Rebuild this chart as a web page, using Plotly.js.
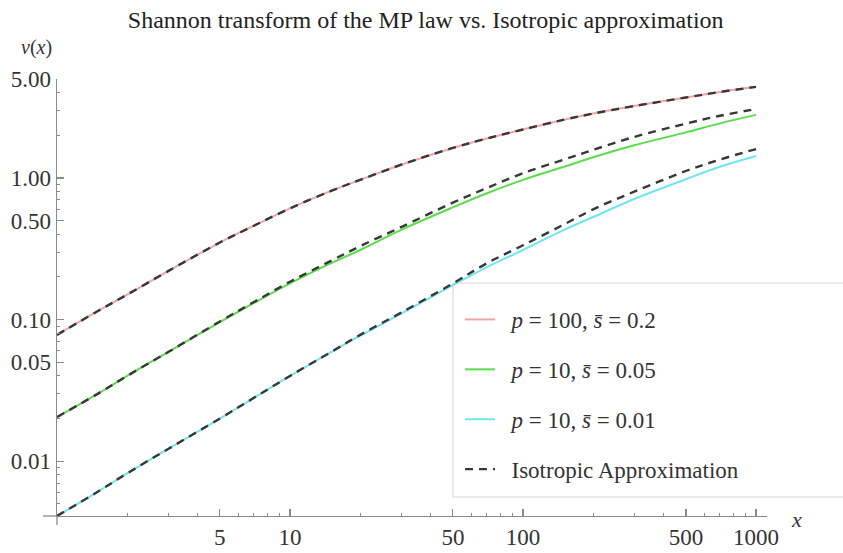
<!DOCTYPE html>
<html><head><meta charset="utf-8">
<script src="https://cdn.plot.ly/plotly-3.0.1.min.js"></script>
<style>html,body{margin:0;padding:0;background:#fff}</style>
</head><body><div id="chart" style="width:843px;height:553px"></div>
<script>
const xValues = [1,1.5,2,3,5,7,10,15,20,30,50,70,100,150,200,300,500,700,1000];
const redMP   = [0.078,0.115,0.15,0.22,0.35,0.46,0.61,0.81,0.97,1.24,1.63,1.9,2.2,2.58,2.85,3.22,3.7,4.05,4.4];
const redIso  = [0.078,0.115,0.15,0.22,0.35,0.46,0.61,0.81,0.97,1.24,1.63,1.9,2.2,2.58,2.85,3.22,3.7,4.05,4.4];
const greenMP = [0.0205,0.030,0.040,0.059,0.096,0.131,0.18,0.25,0.31,0.43,0.62,0.78,0.97,1.2,1.4,1.7,2.1,2.43,2.79];
const greenIso= [0.0205,0.030,0.040,0.059,0.097,0.133,0.185,0.26,0.33,0.45,0.67,0.85,1.08,1.35,1.58,1.95,2.42,2.75,3.07];
const cyanMP  = [0.0041,0.0061,0.0082,0.0122,0.020,0.028,0.040,0.059,0.077,0.11,0.175,0.235,0.31,0.43,0.53,0.71,0.98,1.2,1.43];
const cyanIso = [0.0041,0.0061,0.0082,0.0122,0.020,0.028,0.040,0.059,0.078,0.112,0.18,0.25,0.335,0.47,0.6,0.8,1.12,1.35,1.6];
const pad = '\u00a0\u00a0';
const seriesNames = [pad+'<i>p</i> = 100, <i>s̄</i> = 0.2',pad+'<i>p</i> = 10, <i>s̄</i> = 0.05',pad+'<i>p</i> = 10, <i>s̄</i> = 0.01',pad+'Isotropic Approximation'];
const xTickVals = [5,10,50,100,500,1000];
const xTickText = ['5','10','50','100','500','1000'];
const xMinor = [2,3,4,6,7,8,9,20,30,40,60,70,80,90,200,300,400,600,700,800,900];
const yTickVals = [0.01,0.05,0.1,0.5,1,5];
const yTickText = ['0.01','0.05','0.10','0.50','1.00','5.00'];
const yMinor = [0.005,0.006,0.007,0.008,0.009,0.02,0.03,0.04,0.06,0.07,0.08,0.09,0.2,0.3,0.4,0.6,0.7,0.8,0.9,2,3,4];

const serif = 'Liberation Serif, Times New Roman, serif';
const axisCol = '#8a8a8a';
const dashCol = '#383838';
const dashPat = '8px,6px';

const traces = [
  {x:xValues,y:redMP,name:seriesNames[0],legendgroup:'a',line:{color:'#f2a3a8',width:2}},
  {x:xValues,y:greenMP,name:seriesNames[1],legendgroup:'b',line:{color:'#5bdc4a',width:2}},
  {x:xValues,y:cyanMP,name:seriesNames[2],legendgroup:'c',line:{color:'#6fe6ef',width:2}},
  {x:xValues,y:redIso,name:seriesNames[3],legendgroup:'d',line:{color:dashCol,width:2.4,dash:dashPat}},
  {x:xValues,y:greenIso,name:seriesNames[3],legendgroup:'d',showlegend:false,line:{color:dashCol,width:2.4,dash:dashPat}},
  {x:xValues,y:cyanIso,name:seriesNames[3],legendgroup:'d',showlegend:false,line:{color:dashCol,width:2.4,dash:dashPat}}
].map(t=>{t.type='scatter';t.mode='lines';t.line.shape='spline';return t;});

const pw = 710, ph = 437;
const layout = {
  width:843, height:553,
  margin:{l:57,r:76,t:79,b:37},
  paper_bgcolor:'#fff', plot_bgcolor:'#fff',
  font:{family:serif,size:22,color:'#333'},
  title:{text:'Shannon transform of the MP law vs. Isotropic approximation',font:{family:serif,size:24,color:'#222'},x:0.505,xref:'container',xanchor:'center',y:0.965,yref:'container',yanchor:'middle'},
  xaxis:{type:'log',range:[0,3.047],showgrid:false,zeroline:false,showline:true,linecolor:axisCol,linewidth:1.3,
    ticks:'inside',ticklen:7,tickwidth:1.2,tickcolor:axisCol,tickmode:'array',tickvals:xTickVals,ticktext:xTickText,
    tickfont:{family:serif,size:23,color:'#333'},
    minor:{tickmode:'array',tickvals:xMinor,ticks:'inside',ticklen:3,tickwidth:1,tickcolor:axisCol,showgrid:false}},
  yaxis:{type:'log',range:[Math.log10(0.0041),Math.log10(5)],showgrid:false,zeroline:false,showline:true,linecolor:axisCol,linewidth:1.3,
    ticks:'inside',ticklen:7,tickwidth:1.2,tickcolor:axisCol,tickmode:'array',tickvals:yTickVals,ticktext:yTickText,
    tickfont:{family:serif,size:23,color:'#333'},
    minor:{tickmode:'array',tickvals:yMinor,ticks:'inside',ticklen:3,tickwidth:1,tickcolor:axisCol,showgrid:false}},
  showlegend:true,
  legend:{x:(460-57)/pw,y:(516-298)/ph,xanchor:'left',yanchor:'top',bgcolor:'rgba(255,255,255,0)',borderwidth:0,
    font:{family:serif,size:23,color:'#333'},tracegroupgap:17,itemwidth:30},
  shapes:[
    {type:'rect',xref:'paper',yref:'paper',x0:(453-57)/pw,x1:(845-57)/pw,y0:(516-497)/ph,y1:(516-283)/ph,line:{color:'#d4d4d4',width:1},fillcolor:'rgba(255,255,255,0)',layer:'below'},
    {type:'line',xref:'paper',yref:'paper',x0:(43-57)/pw,x1:0,y0:0,y1:0,line:{color:axisCol,width:1.3}},
    {type:'line',xref:'paper',yref:'paper',x0:0,x1:0,y0:0,y1:-9/ph,line:{color:axisCol,width:1.3}}
  ],
  annotations:[
    {xref:'paper',yref:'paper',x:(36-57)/pw,y:(516-48)/ph,text:'<i>ν</i>(<i>x</i>)',showarrow:false,xanchor:'center',yanchor:'middle',font:{family:serif,size:20,color:'#333'}},
    {xref:'paper',yref:'paper',x:(796-57)/pw,y:(516-519)/ph,text:'<i>x</i>',showarrow:false,xanchor:'center',yanchor:'middle',font:{family:serif,size:22,color:'#333'}}
  ]
};
Plotly.newPlot('chart',traces,layout,{displayModeBar:false,staticPlot:true});
</script></body></html>
